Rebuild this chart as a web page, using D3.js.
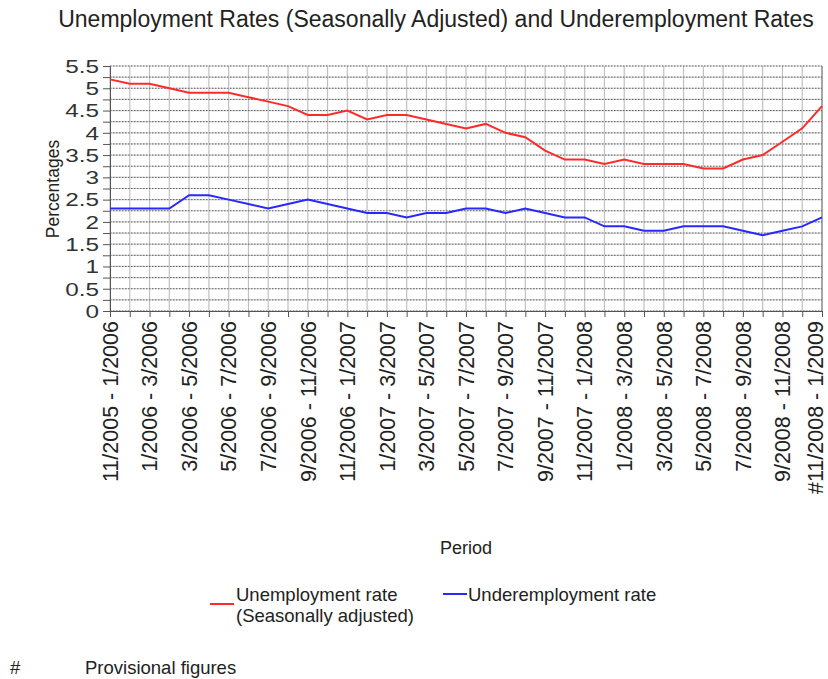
<!DOCTYPE html>
<html>
<head>
<meta charset="utf-8">
<script src="https://cdn.jsdelivr.net/npm/d3@7"></script>
<style>
  html, body { margin: 0; padding: 0; background: #fff; }
  svg { display: block; font-family: "Liberation Sans", Arial, sans-serif; }
</style>
</head>
<body>
<svg id="chart" width="828" height="679"></svg>
<script>
// Rolling three-month periods
const periods = [
  "11/2005 - 1/2006", "12/2005 - 2/2006", "1/2006 - 3/2006", "2/2006 - 4/2006",
  "3/2006 - 5/2006", "4/2006 - 6/2006", "5/2006 - 7/2006", "6/2006 - 8/2006",
  "7/2006 - 9/2006", "8/2006 - 10/2006", "9/2006 - 11/2006", "10/2006 - 12/2006",
  "11/2006 - 1/2007", "12/2006 - 2/2007", "1/2007 - 3/2007", "2/2007 - 4/2007",
  "3/2007 - 5/2007", "4/2007 - 6/2007", "5/2007 - 7/2007", "6/2007 - 8/2007",
  "7/2007 - 9/2007", "8/2007 - 10/2007", "9/2007 - 11/2007", "10/2007 - 12/2007",
  "11/2007 - 1/2008", "12/2007 - 2/2008", "1/2008 - 3/2008", "2/2008 - 4/2008",
  "3/2008 - 5/2008", "4/2008 - 6/2008", "5/2008 - 7/2008", "6/2008 - 8/2008",
  "7/2008 - 9/2008", "8/2008 - 10/2008", "9/2008 - 11/2008", "10/2008 - 12/2008",
  "#11/2008 - 1/2009"
];

// Unemployment rate (seasonally adjusted), %
const unemployment = [
  5.2, 5.1, 5.1, 5.0, 4.9, 4.9, 4.9, 4.8, 4.7, 4.6, 4.4, 4.4,
  4.5, 4.3, 4.4, 4.4, 4.3, 4.2, 4.1, 4.2, 4.0, 3.9, 3.6, 3.4,
  3.4, 3.3, 3.4, 3.3, 3.3, 3.3, 3.2, 3.2, 3.4, 3.5, 3.8, 4.1,
  4.6
];

// Underemployment rate, %
const underemployment = [
  2.3, 2.3, 2.3, 2.3, 2.6, 2.6, 2.5, 2.4, 2.3, 2.4, 2.5, 2.4,
  2.3, 2.2, 2.2, 2.1, 2.2, 2.2, 2.3, 2.3, 2.2, 2.3, 2.2, 2.1,
  2.1, 1.9, 1.9, 1.8, 1.8, 1.9, 1.9, 1.9, 1.8, 1.7, 1.8, 1.9,
  2.1
];

const yTicks = [0, 0.5, 1, 1.5, 2, 2.5, 3, 3.5, 4, 4.5, 5, 5.5];
const yMinor = d3.range(0, 5.5001, 0.25);

const seriesNames = ["Unemployment rate", "Underemployment rate"];

const W = 828;
const svg = d3.select("#chart");
const plot = { left: 110, right: 822, top: 66, bottom: 311 };

const x = d3.scalePoint()
  .domain(d3.range(periods.length))
  .range([plot.left, plot.right]);

const y = d3.scaleLinear()
  .domain([0, 5.5])
  .range([plot.bottom, plot.top]);

// Title
svg.append("text")
  .attr("x", 436).attr("y", 27)
  .attr("text-anchor", "middle")
  .attr("font-size", 23)
  .attr("fill", "#222")
  .text("Unemployment Rates (Seasonally Adjusted) and Underemployment Rates");

// Grid
const grid = svg.append("g");
grid.selectAll("line.vg")
  .data(d3.range(periods.length))
  .join("line")
  .attr("x1", d => x(d)).attr("x2", d => x(d))
  .attr("y1", plot.top).attr("y2", plot.bottom)
  .attr("stroke", "#c0c0c0").attr("stroke-width", 1.2);
grid.selectAll("line.hg")
  .data(yMinor)
  .join("line")
  .attr("x1", plot.left).attr("x2", plot.right)
  .attr("y1", d => y(d)).attr("y2", d => y(d))
  .attr("stroke", "#d0d0d0").attr("stroke-width", 1.2);
grid.selectAll("line.hd")
  .data(yMinor)
  .join("line")
  .attr("x1", plot.left).attr("x2", plot.right)
  .attr("y1", d => y(d)).attr("y2", d => y(d))
  .attr("stroke", "#666").attr("stroke-width", 1)
  .attr("stroke-dasharray", "1.5,1.5");

// Right border
svg.append("line")
  .attr("x1", plot.right).attr("x2", plot.right)
  .attr("y1", plot.top).attr("y2", plot.bottom)
  .attr("stroke", "#777").attr("stroke-width", 1);

// Y axis
const yAxis = svg.append("g")
  .attr("transform", `translate(${plot.left},0)`)
  .call(d3.axisLeft(y).tickValues(yMinor).tickSize(7).tickFormat(""));
yAxis.select(".domain").attr("stroke", "#555");
yAxis.selectAll(".tick line").attr("stroke", "#555");

svg.append("g").selectAll("text")
  .data(yTicks)
  .join("text")
  .attr("transform", d => `translate(99,${y(d)}) scale(1.28,1)`)
  .attr("dy", "0.36em")
  .attr("text-anchor", "end")
  .attr("font-size", 19)
  .attr("fill", "#333")
  .text(d => d3.format("")(d));

// X axis
const xAxis = svg.append("g")
  .attr("transform", `translate(0,${plot.bottom})`)
  .call(d3.axisBottom(x).tickSize(6).tickFormat(""));
xAxis.select(".domain").attr("stroke", "#555");
xAxis.selectAll(".tick line").attr("stroke", "#555");

const labelFont = 21.5;
svg.append("g").selectAll("text")
  .data(d3.range(0, periods.length, 2))
  .join("text")
  .attr("transform", d => {
    // keep the last rotated label inside the frame
    const cx = Math.min(x(d), W - labelFont * 0.58);
    return `translate(${cx},${plot.bottom + 10}) rotate(-90)`;
  })
  .attr("dy", "0.36em")
  .attr("text-anchor", "end")
  .attr("font-size", labelFont)
  .attr("fill", "#222")
  .text(d => periods[d]);

// Axis titles
svg.append("text")
  .attr("x", 466).attr("y", 554)
  .attr("text-anchor", "middle")
  .attr("font-size", 18)
  .attr("fill", "#222")
  .text("Period");

svg.append("text")
  .attr("transform", "translate(59,189) rotate(-90)")
  .attr("text-anchor", "middle")
  .attr("font-size", 17.5)
  .attr("fill", "#222")
  .text("Percentages");

// Lines
const line = d3.line()
  .x((d, i) => x(i))
  .y(d => y(d));

svg.append("path")
  .datum(underemployment)
  .attr("fill", "none")
  .attr("stroke", "#2828ff")
  .attr("stroke-width", 2)
  .attr("d", line);

svg.append("path")
  .datum(unemployment)
  .attr("fill", "none")
  .attr("stroke", "#ff2a2a")
  .attr("stroke-width", 2)
  .attr("d", line);

// Legend
const legend = svg.append("g").attr("font-size", 18.5).attr("fill", "#222");
legend.append("line")
  .attr("x1", 210).attr("x2", 234).attr("y1", 604).attr("y2", 604)
  .attr("stroke", "#ff2a2a").attr("stroke-width", 2);
legend.append("text").attr("x", 236).attr("y", 601).text(seriesNames[0]);
legend.append("text").attr("x", 236).attr("y", 622).text("(Seasonally adjusted)");
legend.append("line")
  .attr("x1", 443).attr("x2", 467).attr("y1", 594).attr("y2", 594)
  .attr("stroke", "#2828ff").attr("stroke-width", 2);
legend.append("text").attr("x", 468).attr("y", 601).text(seriesNames[1]);

// Footnote
const foot = svg.append("g").attr("font-size", 18.5).attr("fill", "#222");
foot.append("text").attr("x", 10).attr("y", 674).text("#");
foot.append("text").attr("x", 85).attr("y", 674).text("Provisional figures");
</script>
</body>
</html>
